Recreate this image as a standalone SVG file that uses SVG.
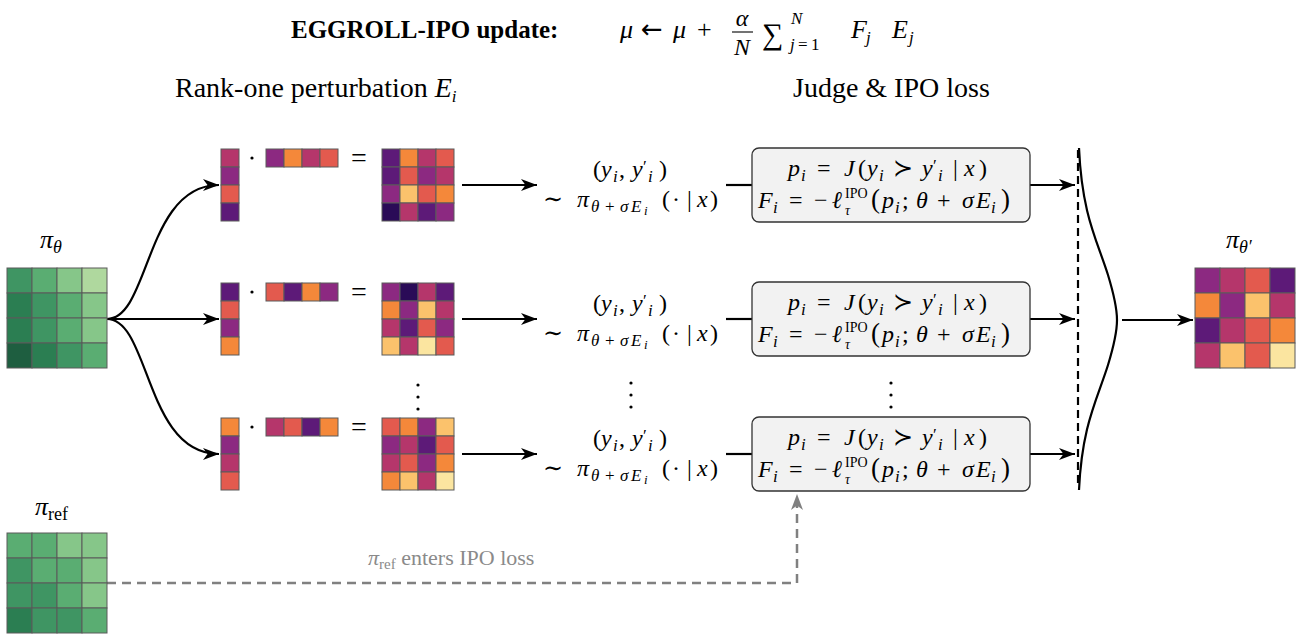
<svg xmlns="http://www.w3.org/2000/svg" width="1297" height="639" viewBox="0 0 1297 639">
  <style>
    .bg { fill: #ffffff; }
    .cell { stroke: #5a5a5a; stroke-width: 1; }
    .fa { fill: #2a0b57; } .fb { fill: #5d1a78; } .fp { fill: #8c2981; } .fm { fill: #b5366b; }
    .fr { fill: #e35a4e; } .fo { fill: #f4883a; } .fl { fill: #fbc26c; } .fy { fill: #fbe5a0; }
    .g1 { fill: #1e5e40; } .g2 { fill: #2b7e52; } .g3 { fill: #3f9563; } .g4 { fill: #5aad72; }
    .g5 { fill: #86c689; } .g6 { fill: #afd89e; }
    .tx { font-family: "Liberation Serif", "DejaVu Serif", serif; fill: #000; }
    .title { font-size: 25px; font-weight: bold; }
    .head { font-size: 28px; }
    .math { font-size: 24px; }
    .big { font-size: 27px; }
    .it { font-style: italic; }
    .sub { font-size: 17px; }
    .sup { font-size: 14px; }
    .ss { font-size: 13px; }
    .arrowglyph { font-family: "DejaVu Sans", sans-serif; }
    .wire { fill: none; stroke: #000; stroke-width: 2.2; }
    .ref { fill: none; stroke: #808080; stroke-width: 2.5; stroke-dasharray: 9 6; }
    .box { fill: #f2f2f2; stroke: #333; stroke-width: 1.3; }
    .grey { fill: #8a8a8a; }
  </style>
  <defs>
    <marker id="arr" markerUnits="userSpaceOnUse" markerWidth="17" markerHeight="13" refX="16" refY="6.5" orient="auto">
      <path d="M0,0.5 L16,6.5 L0,12.5 L4.5,6.5 z" fill="#000"/>
    </marker>
    <marker id="arrGrey" markerUnits="userSpaceOnUse" markerWidth="17" markerHeight="13" refX="16" refY="6.5" orient="auto">
      <path d="M0,0.5 L16,6.5 L0,12.5 L4.5,6.5 z" fill="#808080"/>
    </marker>
  </defs>
  <rect class="bg" x="0" y="0" width="1297" height="639"/>

  <!-- title and update rule -->
  <g id="title">
    <text class="tx title" x="291" y="38">EGGROLL-IPO update:</text>
    <text class="tx" font-size="26" y="38"><tspan class="it" x="620">μ</tspan><tspan class="arrowglyph" x="641">←</tspan><tspan class="it" x="673">μ</tspan><tspan x="697">+</tspan></text>
    <text class="tx it" font-size="24" x="742" y="26" text-anchor="middle">α</text>
    <line x1="732" y1="32" x2="753" y2="32" stroke="#000" stroke-width="1.1"/>
    <text class="tx it" font-size="24" x="742" y="55" text-anchor="middle">N</text>
    <text class="tx" x="762" y="44" font-size="30">∑</text>
    <text class="tx sub it" x="791" y="24">N</text>
    <text class="tx sub" y="50"><tspan class="it" x="790">j</tspan><tspan x="798">=</tspan><tspan x="811">1</tspan></text>
    <text class="tx" font-size="26" y="38"><tspan class="it" x="851">F</tspan><tspan class="sub it" x="866" dy="5">j</tspan><tspan class="it" x="892" dy="-5">E</tspan><tspan class="sub it" x="909" dy="5">j</tspan></text>
  </g>

  <!-- section headings -->
  <g id="headings">
    <text class="tx head" x="175" y="97">Rank-one perturbation <tspan class="it">E</tspan><tspan class="sub it" dy="5">i</tspan></text>
    <text class="tx head" x="793" y="97">Judge &amp; IPO loss</text>
  </g>

  <!-- connectors -->
  <g id="connectors">
    <path class="wire" d="M107,319 C150,319 145,185 219,185" marker-end="url(#arr)"/>
    <path class="wire" d="M107,319 L219,319" marker-end="url(#arr)"/>
    <path class="wire" d="M107,319 C150,319 145,454 219,454" marker-end="url(#arr)"/>

    <path class="wire" d="M462,185 L537,185" marker-end="url(#arr)"/>
    <path class="wire" d="M462,319 L537,319" marker-end="url(#arr)"/>
    <path class="wire" d="M462,454 L537,454" marker-end="url(#arr)"/>

    <path class="wire" d="M726,185 L752,185"/>
    <path class="wire" d="M726,319 L752,319"/>
    <path class="wire" d="M726,454 L752,454"/>

    <path class="wire" d="M1030,185 L1075,185" marker-end="url(#arr)"/>
    <path class="wire" d="M1030,319 L1075,319" marker-end="url(#arr)"/>
    <path class="wire" d="M1030,454 L1075,454" marker-end="url(#arr)"/>

    <path d="M1078,150 L1078,488" fill="none" stroke="#000" stroke-width="2.2" stroke-dasharray="8 5"/>
    <path class="wire" d="M1079,148 C1082,215 1097,240 1108,275 C1115,298 1117,310 1117,320 C1117,330 1115,342 1108,365 C1097,400 1082,425 1079,490"/>
    <path class="wire" d="M1122,320 L1193,320" marker-end="url(#arr)"/>

    <path class="ref" d="M107,583 L797,583 L797,494" marker-end="url(#arrGrey)"/>
  </g>

  <!-- policy theta -->
  <g id="pi-theta">
    <text class="tx" x="40" y="248" font-size="26"><tspan class="it">π</tspan><tspan class="it" font-size="18" dy="5">θ</tspan></text>
    <rect class="cell g3" x="7" y="268" width="25" height="25"/><rect class="cell g4" x="32" y="268" width="25" height="25"/><rect class="cell g5" x="57" y="268" width="25" height="25"/><rect class="cell g6" x="82" y="268" width="25" height="25"/>
    <rect class="cell g2" x="7" y="293" width="25" height="25"/><rect class="cell g3" x="32" y="293" width="25" height="25"/><rect class="cell g4" x="57" y="293" width="25" height="25"/><rect class="cell g5" x="82" y="293" width="25" height="25"/>
    <rect class="cell g2" x="7" y="318" width="25" height="25"/><rect class="cell g3" x="32" y="318" width="25" height="25"/><rect class="cell g4" x="57" y="318" width="25" height="25"/><rect class="cell g5" x="82" y="318" width="25" height="25"/>
    <rect class="cell g1" x="7" y="343" width="25" height="25"/><rect class="cell g2" x="32" y="343" width="25" height="25"/><rect class="cell g3" x="57" y="343" width="25" height="25"/><rect class="cell g4" x="82" y="343" width="25" height="25"/>
  </g>

  <!-- reference policy -->
  <g id="pi-ref">
    <text class="tx" x="35" y="515" font-size="26"><tspan class="it">π</tspan><tspan font-size="18" dy="5">ref</tspan></text>
    <rect class="cell g4" x="7" y="533" width="25" height="25"/><rect class="cell g4" x="32" y="533" width="25" height="25"/><rect class="cell g5" x="57" y="533" width="25" height="25"/><rect class="cell g5" x="82" y="533" width="25" height="25"/>
    <rect class="cell g3" x="7" y="558" width="25" height="25"/><rect class="cell g4" x="32" y="558" width="25" height="25"/><rect class="cell g4" x="57" y="558" width="25" height="25"/><rect class="cell g5" x="82" y="558" width="25" height="25"/>
    <rect class="cell g3" x="7" y="583" width="25" height="25"/><rect class="cell g3" x="32" y="583" width="25" height="25"/><rect class="cell g4" x="57" y="583" width="25" height="25"/><rect class="cell g5" x="82" y="583" width="25" height="25"/>
    <rect class="cell g2" x="7" y="608" width="25" height="25"/><rect class="cell g3" x="32" y="608" width="25" height="25"/><rect class="cell g3" x="57" y="608" width="25" height="25"/><rect class="cell g4" x="82" y="608" width="25" height="25"/>
    <text class="tx grey" x="368" y="565" font-size="22"><tspan class="it">π</tspan><tspan font-size="15" dy="4">ref</tspan><tspan dy="-4"> enters IPO loss</tspan></text>
  </g>

  <!-- perturbation row 1 -->
  <g id="perturb-1">
    <rect class="cell fm" x="221" y="149" width="18" height="18"/><rect class="cell fp" x="221" y="167" width="18" height="18"/><rect class="cell fr" x="221" y="185" width="18" height="18"/><rect class="cell fb" x="221" y="203" width="18" height="18"/>
    <circle cx="252" cy="158" r="1.6" fill="#000"/>
    <rect class="cell fp" x="266" y="149" width="18" height="18"/><rect class="cell fo" x="284" y="149" width="18" height="18"/><rect class="cell fm" x="302" y="149" width="18" height="18"/><rect class="cell fr" x="320" y="149" width="18" height="18"/>
    <text class="tx" x="359" y="167" font-size="28" text-anchor="middle">=</text>
    <rect class="cell fb" x="382" y="149" width="18" height="18"/><rect class="cell fo" x="400" y="149" width="18" height="18"/><rect class="cell fm" x="418" y="149" width="18" height="18"/><rect class="cell fr" x="436" y="149" width="18" height="18"/>
    <rect class="cell fb" x="382" y="167" width="18" height="18"/><rect class="cell fr" x="400" y="167" width="18" height="18"/><rect class="cell fp" x="418" y="167" width="18" height="18"/><rect class="cell fm" x="436" y="167" width="18" height="18"/>
    <rect class="cell fp" x="382" y="185" width="18" height="18"/><rect class="cell fl" x="400" y="185" width="18" height="18"/><rect class="cell fr" x="418" y="185" width="18" height="18"/><rect class="cell fo" x="436" y="185" width="18" height="18"/>
    <rect class="cell fa" x="382" y="203" width="18" height="18"/><rect class="cell fm" x="400" y="203" width="18" height="18"/><rect class="cell fb" x="418" y="203" width="18" height="18"/><rect class="cell fp" x="436" y="203" width="18" height="18"/>
  </g>

  <!-- perturbation row 2 -->
  <g id="perturb-2">
    <rect class="cell fb" x="221" y="283" width="18" height="18"/><rect class="cell fr" x="221" y="301" width="18" height="18"/><rect class="cell fp" x="221" y="319" width="18" height="18"/><rect class="cell fo" x="221" y="337" width="18" height="18"/>
    <circle cx="252" cy="292" r="1.6" fill="#000"/>
    <rect class="cell fr" x="266" y="283" width="18" height="18"/><rect class="cell fb" x="284" y="283" width="18" height="18"/><rect class="cell fo" x="302" y="283" width="18" height="18"/><rect class="cell fp" x="320" y="283" width="18" height="18"/>
    <text class="tx" x="359" y="301" font-size="28" text-anchor="middle">=</text>
    <rect class="cell fp" x="382" y="283" width="18" height="18"/><rect class="cell fa" x="400" y="283" width="18" height="18"/><rect class="cell fm" x="418" y="283" width="18" height="18"/><rect class="cell fb" x="436" y="283" width="18" height="18"/>
    <rect class="cell fo" x="382" y="301" width="18" height="18"/><rect class="cell fp" x="400" y="301" width="18" height="18"/><rect class="cell fl" x="418" y="301" width="18" height="18"/><rect class="cell fm" x="436" y="301" width="18" height="18"/>
    <rect class="cell fm" x="382" y="319" width="18" height="18"/><rect class="cell fb" x="400" y="319" width="18" height="18"/><rect class="cell fr" x="418" y="319" width="18" height="18"/><rect class="cell fp" x="436" y="319" width="18" height="18"/>
    <rect class="cell fl" x="382" y="337" width="18" height="18"/><rect class="cell fm" x="400" y="337" width="18" height="18"/><rect class="cell fy" x="418" y="337" width="18" height="18"/><rect class="cell fr" x="436" y="337" width="18" height="18"/>
  </g>

  <!-- perturbation row 3 -->
  <g id="perturb-3">
    <rect class="cell fo" x="221" y="418" width="18" height="18"/><rect class="cell fp" x="221" y="436" width="18" height="18"/><rect class="cell fm" x="221" y="454" width="18" height="18"/><rect class="cell fr" x="221" y="472" width="18" height="18"/>
    <circle cx="252" cy="427" r="1.6" fill="#000"/>
    <rect class="cell fm" x="266" y="418" width="18" height="18"/><rect class="cell fr" x="284" y="418" width="18" height="18"/><rect class="cell fb" x="302" y="418" width="18" height="18"/><rect class="cell fo" x="320" y="418" width="18" height="18"/>
    <text class="tx" x="359" y="436" font-size="28" text-anchor="middle">=</text>
    <rect class="cell fr" x="382" y="418" width="18" height="18"/><rect class="cell fo" x="400" y="418" width="18" height="18"/><rect class="cell fp" x="418" y="418" width="18" height="18"/><rect class="cell fl" x="436" y="418" width="18" height="18"/>
    <rect class="cell fp" x="382" y="436" width="18" height="18"/><rect class="cell fm" x="400" y="436" width="18" height="18"/><rect class="cell fb" x="418" y="436" width="18" height="18"/><rect class="cell fr" x="436" y="436" width="18" height="18"/>
    <rect class="cell fm" x="382" y="454" width="18" height="18"/><rect class="cell fr" x="400" y="454" width="18" height="18"/><rect class="cell fp" x="418" y="454" width="18" height="18"/><rect class="cell fo" x="436" y="454" width="18" height="18"/>
    <rect class="cell fo" x="382" y="472" width="18" height="18"/><rect class="cell fl" x="400" y="472" width="18" height="18"/><rect class="cell fm" x="418" y="472" width="18" height="18"/><rect class="cell fy" x="436" y="472" width="18" height="18"/>
  </g>

  <!-- vertical ellipses between rows -->
  <g id="ellipsis">
    <circle cx="418" cy="385" r="1.6" fill="#000"/><circle cx="418" cy="397" r="1.6" fill="#000"/><circle cx="418" cy="409" r="1.6" fill="#000"/>
    <circle cx="631" cy="383" r="1.6" fill="#000"/><circle cx="631" cy="395" r="1.6" fill="#000"/><circle cx="631" cy="407" r="1.6" fill="#000"/>
    <circle cx="891" cy="383" r="1.6" fill="#000"/><circle cx="891" cy="395" r="1.6" fill="#000"/><circle cx="891" cy="407" r="1.6" fill="#000"/>
  </g>

  <!-- sampled pairs (same layout per row, shifted down) -->
  <g id="sample-1">
    <text class="tx math" y="177"><tspan x="593">(</tspan><tspan class="it" x="601">y</tspan><tspan class="sub it" x="613" dy="5">i</tspan><tspan x="619" dy="-5">,</tspan><tspan class="it" x="632">y</tspan><tspan class="sub" x="643" dy="-5">′</tspan><tspan class="sub it" x="648" dy="10">i</tspan><tspan x="659" dy="-5">)</tspan></text>
    <text class="tx math" y="207"><tspan x="543">∼</tspan><tspan class="it" x="577">π</tspan><tspan class="sub it" x="591" dy="5">θ</tspan><tspan class="sub" x="605">+</tspan><tspan class="sub it" x="620">σ</tspan><tspan class="sub it" x="631">E</tspan><tspan class="ss it" x="644" dy="3">i</tspan><tspan x="662" dy="-8">(</tspan><tspan x="672">·</tspan><tspan x="687">|</tspan><tspan class="it" x="697">x</tspan><tspan x="710">)</tspan></text>
  </g>
  <g id="sample-2" transform="translate(0,134)">
    <text class="tx math" y="177"><tspan x="593">(</tspan><tspan class="it" x="601">y</tspan><tspan class="sub it" x="613" dy="5">i</tspan><tspan x="619" dy="-5">,</tspan><tspan class="it" x="632">y</tspan><tspan class="sub" x="643" dy="-5">′</tspan><tspan class="sub it" x="648" dy="10">i</tspan><tspan x="659" dy="-5">)</tspan></text>
    <text class="tx math" y="207"><tspan x="543">∼</tspan><tspan class="it" x="577">π</tspan><tspan class="sub it" x="591" dy="5">θ</tspan><tspan class="sub" x="605">+</tspan><tspan class="sub it" x="620">σ</tspan><tspan class="sub it" x="631">E</tspan><tspan class="ss it" x="644" dy="3">i</tspan><tspan x="662" dy="-8">(</tspan><tspan x="672">·</tspan><tspan x="687">|</tspan><tspan class="it" x="697">x</tspan><tspan x="710">)</tspan></text>
  </g>
  <g id="sample-3" transform="translate(0,269)">
    <text class="tx math" y="177"><tspan x="593">(</tspan><tspan class="it" x="601">y</tspan><tspan class="sub it" x="613" dy="5">i</tspan><tspan x="619" dy="-5">,</tspan><tspan class="it" x="632">y</tspan><tspan class="sub" x="643" dy="-5">′</tspan><tspan class="sub it" x="648" dy="10">i</tspan><tspan x="659" dy="-5">)</tspan></text>
    <text class="tx math" y="207"><tspan x="543">∼</tspan><tspan class="it" x="577">π</tspan><tspan class="sub it" x="591" dy="5">θ</tspan><tspan class="sub" x="605">+</tspan><tspan class="sub it" x="620">σ</tspan><tspan class="sub it" x="631">E</tspan><tspan class="ss it" x="644" dy="3">i</tspan><tspan x="662" dy="-8">(</tspan><tspan x="672">·</tspan><tspan x="687">|</tspan><tspan class="it" x="697">x</tspan><tspan x="710">)</tspan></text>
  </g>

  <!-- judge boxes (same layout per row, shifted down) -->
  <g id="judge-1">
    <rect class="box" x="752" y="148" width="278" height="74" rx="7"/>
    <text class="tx math" y="176"><tspan class="it" x="788">p</tspan><tspan class="sub it" x="801" dy="5">i</tspan><tspan x="817" dy="-5">=</tspan><tspan class="it" x="844">J</tspan><tspan x="858">(</tspan><tspan class="it" x="867">y</tspan><tspan class="sub it" x="879" dy="5">i</tspan><tspan x="893" dy="-5">≻</tspan><tspan class="it" x="922">y</tspan><tspan class="sub" x="933" dy="-5">′</tspan><tspan class="sub it" x="938" dy="10">i</tspan><tspan x="953" dy="-5">|</tspan><tspan class="it" x="964">x</tspan><tspan x="979">)</tspan></text>
    <text class="tx math" y="208"><tspan class="it" x="758">F</tspan><tspan class="sub it" x="773" dy="5">i</tspan><tspan x="789" dy="-5">=</tspan><tspan x="814">−</tspan><tspan class="it" x="832">ℓ</tspan><tspan class="sup" x="845" dy="-10">IPO</tspan><tspan class="sup it" x="845" dy="17">τ</tspan><tspan class="big" x="871" dy="-7">(</tspan><tspan class="it" x="882">p</tspan><tspan class="sub it" x="895" dy="5">i</tspan><tspan x="902" dy="-5">;</tspan><tspan class="it" x="916">θ</tspan><tspan x="937">+</tspan><tspan class="it" x="962">σ</tspan><tspan class="it" x="976">E</tspan><tspan class="sub it" x="991" dy="5">i</tspan><tspan class="big" x="1001" dy="-5">)</tspan></text>
  </g>
  <g id="judge-2" transform="translate(0,134)">
    <rect class="box" x="752" y="148" width="278" height="74" rx="7"/>
    <text class="tx math" y="176"><tspan class="it" x="788">p</tspan><tspan class="sub it" x="801" dy="5">i</tspan><tspan x="817" dy="-5">=</tspan><tspan class="it" x="844">J</tspan><tspan x="858">(</tspan><tspan class="it" x="867">y</tspan><tspan class="sub it" x="879" dy="5">i</tspan><tspan x="893" dy="-5">≻</tspan><tspan class="it" x="922">y</tspan><tspan class="sub" x="933" dy="-5">′</tspan><tspan class="sub it" x="938" dy="10">i</tspan><tspan x="953" dy="-5">|</tspan><tspan class="it" x="964">x</tspan><tspan x="979">)</tspan></text>
    <text class="tx math" y="208"><tspan class="it" x="758">F</tspan><tspan class="sub it" x="773" dy="5">i</tspan><tspan x="789" dy="-5">=</tspan><tspan x="814">−</tspan><tspan class="it" x="832">ℓ</tspan><tspan class="sup" x="845" dy="-10">IPO</tspan><tspan class="sup it" x="845" dy="17">τ</tspan><tspan class="big" x="871" dy="-7">(</tspan><tspan class="it" x="882">p</tspan><tspan class="sub it" x="895" dy="5">i</tspan><tspan x="902" dy="-5">;</tspan><tspan class="it" x="916">θ</tspan><tspan x="937">+</tspan><tspan class="it" x="962">σ</tspan><tspan class="it" x="976">E</tspan><tspan class="sub it" x="991" dy="5">i</tspan><tspan class="big" x="1001" dy="-5">)</tspan></text>
  </g>
  <g id="judge-3" transform="translate(0,269)">
    <rect class="box" x="752" y="148" width="278" height="74" rx="7"/>
    <text class="tx math" y="176"><tspan class="it" x="788">p</tspan><tspan class="sub it" x="801" dy="5">i</tspan><tspan x="817" dy="-5">=</tspan><tspan class="it" x="844">J</tspan><tspan x="858">(</tspan><tspan class="it" x="867">y</tspan><tspan class="sub it" x="879" dy="5">i</tspan><tspan x="893" dy="-5">≻</tspan><tspan class="it" x="922">y</tspan><tspan class="sub" x="933" dy="-5">′</tspan><tspan class="sub it" x="938" dy="10">i</tspan><tspan x="953" dy="-5">|</tspan><tspan class="it" x="964">x</tspan><tspan x="979">)</tspan></text>
    <text class="tx math" y="208"><tspan class="it" x="758">F</tspan><tspan class="sub it" x="773" dy="5">i</tspan><tspan x="789" dy="-5">=</tspan><tspan x="814">−</tspan><tspan class="it" x="832">ℓ</tspan><tspan class="sup" x="845" dy="-10">IPO</tspan><tspan class="sup it" x="845" dy="17">τ</tspan><tspan class="big" x="871" dy="-7">(</tspan><tspan class="it" x="882">p</tspan><tspan class="sub it" x="895" dy="5">i</tspan><tspan x="902" dy="-5">;</tspan><tspan class="it" x="916">θ</tspan><tspan x="937">+</tspan><tspan class="it" x="962">σ</tspan><tspan class="it" x="976">E</tspan><tspan class="sub it" x="991" dy="5">i</tspan><tspan class="big" x="1001" dy="-5">)</tspan></text>
  </g>

  <!-- updated policy -->
  <g id="pi-theta-new">
    <text class="tx" x="1226" y="248" font-size="26"><tspan class="it">π</tspan><tspan class="it" font-size="18" dy="5">θ′</tspan></text>
    <rect class="cell fp" x="1195" y="268" width="25" height="25"/><rect class="cell fm" x="1220" y="268" width="25" height="25"/><rect class="cell fr" x="1245" y="268" width="25" height="25"/><rect class="cell fb" x="1270" y="268" width="25" height="25"/>
    <rect class="cell fo" x="1195" y="293" width="25" height="25"/><rect class="cell fp" x="1220" y="293" width="25" height="25"/><rect class="cell fl" x="1245" y="293" width="25" height="25"/><rect class="cell fm" x="1270" y="293" width="25" height="25"/>
    <rect class="cell fb" x="1195" y="318" width="25" height="25"/><rect class="cell fm" x="1220" y="318" width="25" height="25"/><rect class="cell fr" x="1245" y="318" width="25" height="25"/><rect class="cell fo" x="1270" y="318" width="25" height="25"/>
    <rect class="cell fm" x="1195" y="343" width="25" height="25"/><rect class="cell fl" x="1220" y="343" width="25" height="25"/><rect class="cell fr" x="1245" y="343" width="25" height="25"/><rect class="cell fy" x="1270" y="343" width="25" height="25"/>
  </g>
</svg>
